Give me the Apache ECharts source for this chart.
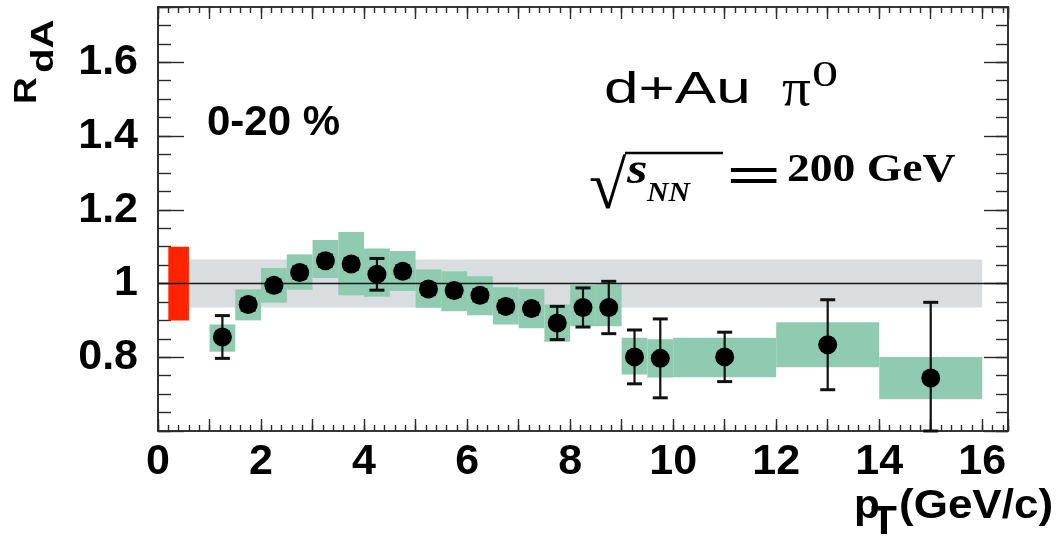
<!DOCTYPE html>
<html>
<head>
<meta charset="utf-8">
<script src="https://cdn.jsdelivr.net/npm/echarts@6/dist/echarts.min.js"></script>
<style>
  html, body { margin: 0; padding: 0; background: #ffffff; }
  #chart { width: 1060px; height: 539px; }
</style>
</head>
<body>
<div id="chart"></div>
<script>
// pi0 nuclear modification factor R_dA, d+Au 0-20 % centrality, sqrt(s_NN) = 200 GeV
const ptCenter = [1.25, 1.75, 2.25, 2.75, 3.25, 3.75, 4.25, 4.75, 5.25, 5.75, 6.25,
                  6.75, 7.25, 7.75, 8.25, 8.75, 9.25, 9.75, 11, 13, 15];
const binLow   = [1.0, 1.5, 2.0, 2.5, 3.0, 3.5, 4.0, 4.5, 5.0, 5.5, 6.0,
                  6.5, 7.0, 7.5, 8.0, 8.5, 9.0, 9.5, 10, 12, 14];
const binHigh  = [1.5, 2.0, 2.5, 3.0, 3.5, 4.0, 4.5, 5.0, 5.5, 6.0, 6.5,
                  7.0, 7.5, 8.0, 8.5, 9.0, 9.5, 10, 12, 14, 16];
const rdA      = [0.855, 0.943, 0.995, 1.030, 1.062, 1.053, 1.025, 1.033, 0.985, 0.981, 0.968,
                  0.938, 0.932, 0.893, 0.935, 0.935, 0.801, 0.797, 0.801, 0.834, 0.744];
const statErr  = [0.058, 0.015, 0.015, 0.015, 0.015, 0.015, 0.043, 0.015, 0.015, 0.015, 0.015,
                  0.015, 0.015, 0.045, 0.053, 0.071, 0.073, 0.107, 0.067, 0.122, 0.205];
const sysLow   = [0.815, 0.900, 0.948, 0.983, 1.015, 0.968, 0.964, 0.980, 0.934, 0.925, 0.914,
                  0.889, 0.879, 0.842, 0.884, 0.884, 0.753, 0.745, 0.746, 0.773, 0.686];
const sysHigh  = [0.889, 0.984, 1.042, 1.079, 1.118, 1.140, 1.095, 1.088, 1.038, 1.033, 1.020,
                  0.990, 0.985, 0.943, 0.996, 0.998, 0.853, 0.849, 0.853, 0.895, 0.801];

// overall normalisation uncertainties: [x from, x to, low, high]
const normBand = [0.6, 16, 0.935, 1.065];   // grey, common to all points
const nCollBox = [0.2, 0.6, 0.900, 1.100];  // red, N_coll uncertainty

const xTickLabels = [0, 2, 4, 6, 8, 10, 12, 14, 16];
const yTickLabels = [0.8, 1, 1.2, 1.4, 1.6];
const X_MIN = 0, X_MAX = 16.5, Y_MIN = 0.6, Y_MAX = 1.75;

const SANS = '"Liberation Sans", Arial, Helvetica, sans-serif';
const SERIF = '"Liberation Serif", "Times New Roman", Times, serif';
const FRAME = '#2a2a2a';

const sysData = ptCenter.map((_, i) => [binLow[i], binHigh[i], sysLow[i], sysHigh[i]]);
const pointData = ptCenter.map((x, i) => [x, rdA[i]]);
const errData = ptCenter.map((x, i) => [x, rdA[i], statErr[i]]);

function boxRenderer(fill) {
  return function (params, api) {
    const a = api.coord([api.value(0), api.value(3)]);
    const b = api.coord([api.value(1), api.value(2)]);
    return {
      type: 'rect',
      shape: { x: a[0], y: a[1], width: b[0] - a[0], height: b[1] - a[1] },
      style: { fill: fill }
    };
  };
}

function errRenderer(params, api) {
  const x = api.value(0), y = api.value(1), e = api.value(2);
  const top = api.coord([x, Math.min(y + e, Y_MAX)]);
  const bot = api.coord([x, Math.max(y - e, Y_MIN)]);
  const half = 7.5;
  const bar = { stroke: '#111111', lineWidth: 2.2 };
  const cap = { stroke: '#111111', lineWidth: 3 };
  return {
    type: 'group',
    children: [
      { type: 'line', shape: { x1: top[0], y1: top[1], x2: bot[0], y2: bot[1] }, style: bar },
      { type: 'line', shape: { x1: top[0] - half, y1: top[1], x2: top[0] + half, y2: top[1] }, style: cap },
      { type: 'line', shape: { x1: bot[0] - half, y1: bot[1], x2: bot[0] + half, y2: bot[1] }, style: cap }
    ]
  };
}

function isLabel(list, v) {
  return list.some(t => Math.abs(t - v) < 1e-6);
}

function xAxisDef(position, interval, tickLen, withLabels) {
  return {
    type: 'value', position: position, min: X_MIN, max: X_MAX, interval: interval,
    axisLine: { show: true, onZero: false, lineStyle: { color: FRAME, width: 1.6 } },
    axisTick: { show: true, inside: true, length: tickLen, lineStyle: { color: FRAME, width: 1.4 } },
    axisLabel: withLabels ? {
      show: true, margin: 10, color: '#000000', fontFamily: SANS, fontWeight: 'bold', fontSize: 43,
      formatter: v => (isLabel(xTickLabels, v) ? String(Math.round(v)) : '')
    } : { show: false },
    splitLine: { show: false }
  };
}

function yAxisDef(position, interval, tickLen, withLabels) {
  return {
    type: 'value', position: position, min: Y_MIN, max: Y_MAX, interval: interval,
    axisLine: { show: true, onZero: false, lineStyle: { color: FRAME, width: 1.6 } },
    axisTick: { show: true, inside: true, length: tickLen, lineStyle: { color: FRAME, width: 1.4 } },
    axisLabel: withLabels ? {
      show: true, margin: 20, color: '#000000', fontFamily: SANS, fontWeight: 'bold', fontSize: 43,
      padding: [0, 0, 8, 0],
      formatter: v => (isLabel(yTickLabels, v) ? String(parseFloat(v.toFixed(2))) : '')
    } : { show: false },
    splitLine: { show: false }
  };
}

// free-standing annotation text; opts: size, family, weight, italic, scaleX, rotation
function txt(x, y, text, opts) {
  return {
    type: 'text', x: x, y: y, z: 100,
    rotation: opts.rotation || 0,
    scaleX: opts.scaleX || 1,
    style: {
      text: text, fill: '#000000',
      fontSize: opts.size, fontFamily: opts.family || SANS,
      fontWeight: opts.weight || 'normal', fontStyle: opts.italic ? 'italic' : 'normal',
      textAlign: 'left', textVerticalAlign: 'middle'
    }
  };
}

const chart = echarts.init(document.getElementById('chart'), null, { renderer: 'canvas' });

chart.setOption({
  animation: false,
  backgroundColor: '#ffffff',
  grid: { left: 158, right: 52, top: 7, bottom: 108, containLabel: false },
  xAxis: [
    xAxisDef('bottom', 1, 12, true),
    xAxisDef('bottom', 0.2, 6, false),
    xAxisDef('top', 1, 12, false),
    xAxisDef('top', 0.2, 6, false)
  ],
  yAxis: [
    yAxisDef('left', 0.2, 26, true),
    yAxisDef('left', 0.05, 13, false),
    yAxisDef('right', 0.2, 24, false),
    yAxisDef('right', 0.05, 12, false)
  ],
  series: [
    {
      name: 'normalisation', type: 'custom', z: 1,
      renderItem: boxRenderer('#d9dde0'),
      data: [normBand]
    },
    {
      name: 'Ncoll', type: 'custom', z: 1,
      renderItem: boxRenderer('#ff2400'),
      data: [nCollBox]
    },
    {
      name: 'systematic', type: 'custom', z: 2,
      renderItem: boxRenderer('#8fcbb0'),
      data: sysData
    },
    {
      name: 'unity', type: 'line', z: 3, symbol: 'none', silent: true,
      lineStyle: { color: '#1a1a1a', width: 1.6 },
      data: [[X_MIN, 1], [X_MAX, 1]]
    },
    {
      name: 'statistical', type: 'custom', z: 4,
      renderItem: errRenderer,
      data: errData
    },
    {
      name: 'R_dA', type: 'scatter', z: 5,
      symbol: 'circle', symbolSize: 19,
      itemStyle: { color: '#000000', opacity: 1 },
      data: pointData
    }
  ],
  graphic: [
    // centrality label
    txt(207, 123, '0-20 %', { size: 42, weight: 'bold' }),
    // collision system and particle
    txt(604, 91, 'd+Au', { size: 45, scaleX: 1.38 }),
    txt(782, 91, 'π', { size: 52, family: SERIF, scaleX: 1.1 }),
    txt(812, 77, '0', { size: 36, family: SERIF, scaleX: 1.45 }),
    // collision energy
    txt(589, 190, '√', { size: 68, family: SERIF }),
    {
      type: 'line', z: 100,
      shape: { x1: 625, y1: 153, x2: 723, y2: 153 },
      style: { stroke: '#000000', lineWidth: 2.5 }
    },
    txt(627, 172, 's', { size: 44, family: SERIF, weight: 'bold', italic: true, scaleX: 1.2 }),
    txt(647, 194, 'NN', { size: 27, family: SERIF, weight: 'bold', italic: true, scaleX: 1.1 }),
    txt(726, 180, '=', { size: 56, family: SERIF, weight: 'bold', scaleX: 1.75 }),
    txt(787, 171, '200 GeV', { size: 40, family: SERIF, weight: 'bold', scaleX: 1.14 }),
    // axis titles
    txt(854, 507, 'p', { size: 40, weight: 'bold', scaleX: 1.06 }),
    txt(871, 523, 'T', { size: 40, weight: 'bold', scaleX: 1.06 }),
    txt(899, 507, '(GeV/c)', { size: 40, weight: 'bold', scaleX: 1.1 }),
    txt(27, 104, 'R', { size: 31, weight: 'bold', rotation: Math.PI / 2, scaleX: 1.2 }),
    txt(44, 73, 'dA', { size: 31, weight: 'bold', rotation: Math.PI / 2, scaleX: 1.3 })
  ]
});
</script>
</body>
</html>
